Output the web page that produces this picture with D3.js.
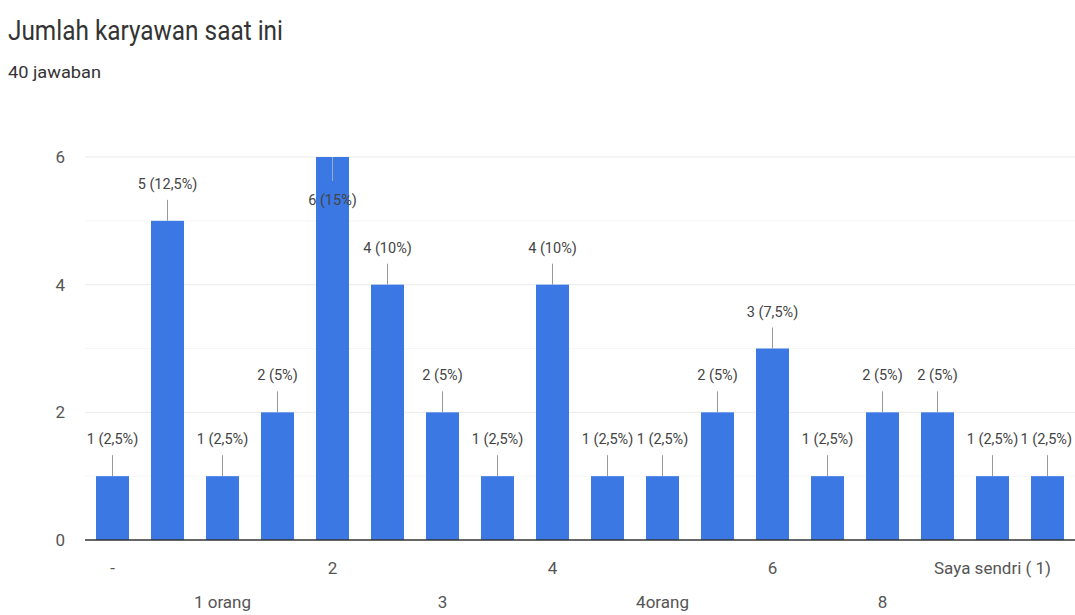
<!DOCTYPE html>
<html><head><meta charset="utf-8">
<script src="https://cdn.jsdelivr.net/npm/d3@7"></script>
<style>body{margin:0;background:#fff;} text{font-family:Roboto, "Liberation Sans", sans-serif;}</style>
</head><body>
<svg id="chart" width="1075" height="615"></svg>
<script>
const title = "Jumlah karyawan saat ini";
const subtitle = "40 jawaban";
const categories = ["-", "1", "1 orang", "10", "2", "2 orang", "3", "3 orang", "4", "4 orang", "4orang", "5", "6", "7", "8", "Saya sendiri", "Saya sendri ( 1)", "tidak ada"];
const values = [1, 5, 1, 2, 6, 4, 2, 1, 4, 1, 1, 2, 3, 1, 2, 2, 1, 1];
const percentLabels = ["2,5%", "12,5%", "2,5%", "5%", "15%", "10%", "5%", "2,5%", "10%", "2,5%", "2,5%", "5%", "7,5%", "2,5%", "5%", "5%", "2,5%", "2,5%"];
const yTicks = [0, 2, 4, 6];
const yMinor = [1, 3, 5];

const svg = d3.select("#chart");
const m = {left: 85, right: 0, top: 157, bottom: 75};
const W = 1075, H = 615;
const x = d3.scaleBand().domain(categories).range([m.left, W - m.right]).paddingInner(0.4).paddingOuter(0.2);
const y = d3.scaleLinear().domain([0, 6]).range([H - m.bottom, m.top]);

svg.append("text").attr("x", 8).attr("y", 40).attr("font-size", 27).attr("fill", "#333")
  .attr("textLength", 275).attr("lengthAdjust", "spacingAndGlyphs").text(title);
svg.append("text").attr("x", 8).attr("y", 78).attr("font-size", 17).attr("fill", "#333")
  .attr("textLength", 93).attr("lengthAdjust", "spacingAndGlyphs").text(subtitle);

// gridlines
svg.append("g").selectAll("line").data(yMinor).join("line")
  .attr("x1", m.left).attr("x2", W).attr("y1", d => y(d)).attr("y2", d => y(d))
  .attr("stroke", "#f6f6f6").attr("stroke-width", 1);
svg.append("g").selectAll("line").data(yTicks.filter(d => d > 0)).join("line")
  .attr("x1", m.left).attr("x2", W).attr("y1", d => y(d)).attr("y2", d => y(d))
  .attr("stroke", "#ebebeb").attr("stroke-width", 1);

// y axis
const yAxis = svg.append("g").attr("transform", `translate(${m.left},0)`)
  .call(d3.axisLeft(y).tickValues(yTicks).tickFormat(d3.format("d")).tickSize(0).tickPadding(20));
yAxis.select(".domain").remove();
yAxis.selectAll("text").attr("font-size", 17).attr("fill", "#555").attr("font-family", "Roboto");

// bars
svg.append("g").selectAll("rect").data(values).join("rect")
  .attr("x", (d, i) => x(categories[i])).attr("width", x.bandwidth())
  .attr("y", d => y(d)).attr("height", d => y(0) - y(d))
  .attr("fill", "#3b78e3");

// baseline
svg.append("line").attr("x1", m.left).attr("x2", W).attr("y1", y(0)).attr("y2", y(0))
  .attr("stroke", "#333").attr("stroke-width", 1.5);

// x axis labels (alternating rows)
const xAxis = svg.append("g").attr("transform", `translate(0,${y(0)})`)
  .call(d3.axisBottom(x).tickSize(0).tickFormat((d, i) => i % 2 === 0 ? d : ""));
xAxis.select(".domain").remove();
xAxis.selectAll("text").attr("font-size", 17).attr("fill", "#555")
  .attr("y", (d, i) => (i % 4 === 0 ? 29 : 63)).attr("dy", "0.32em");

// annotations
const ann = svg.append("g");
values.forEach((v, i) => {
  const cx = x(categories[i]) + x.bandwidth() / 2;
  const top = y(v);
  const inside = v === 6;
  const lineEnd = inside ? top + 24 : top - 21;
  const ty = inside ? top + 48 : top - 32;
  ann.append("line").attr("x1", cx).attr("x2", cx).attr("y1", top).attr("y2", lineEnd)
    .attr("stroke", inside ? "#9ab" : "#999").attr("stroke-width", 1);
  const t = ann.append("text").attr("x", cx).attr("y", ty).attr("text-anchor", "middle")
    .attr("font-size", 14.5).attr("fill", "#444")
    .text(`${v} (${percentLabels[i]})`);
  const len = t.node().getComputedTextLength();
  if (cx + len / 2 > W - 3) t.attr("x", W - 3 - len / 2);
});
</script>
</body></html>
